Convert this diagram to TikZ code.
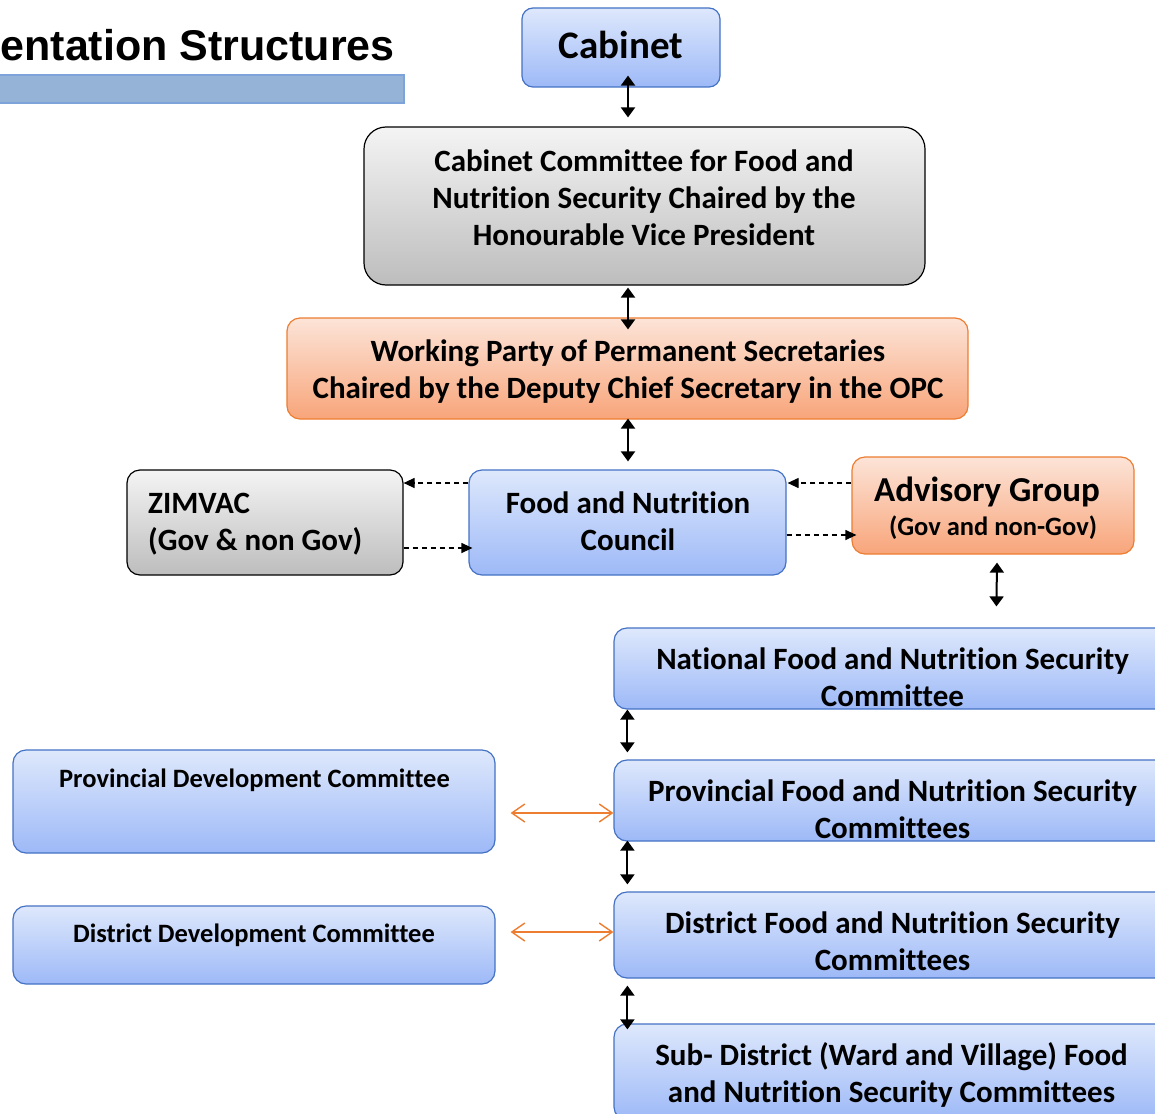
\documentclass[tikz,border=0pt]{standalone}
\usepackage{fontspec}
\setmainfont{Carlito}[Ligatures={NoCommon}]
\newfontfamily\titlefont{Liberation Sans}
\usetikzlibrary{arrows.meta,calc}
\definecolor{bluebd}{HTML}{4472C4}
\definecolor{bluetop}{HTML}{DEE8FC}
\definecolor{bluebot}{HTML}{9DB9F7}
\definecolor{greytop}{HTML}{F4F4F4}
\definecolor{greybot}{HTML}{BDBDBD}
\definecolor{orbd}{HTML}{ED7D31}
\definecolor{ortop}{HTML}{FCE4D8}
\definecolor{orbot}{HTML}{F8A57A}
\definecolor{barfill}{HTML}{95B3D7}
\definecolor{barbd}{HTML}{7EA2DA}
\tikzset{
  box/.style={rounded corners=13pt, line width=1.2pt, inner sep=0pt},
  bluebox/.style={box, draw=bluebd, top color=bluetop, bottom color=bluebot},
  greybox/.style={box, draw=black, top color=greytop, bottom color=greybot},
  orbox/.style={box, draw=orbd, top color=ortop, bottom color=orbot},
  txt/.style={inner sep=0pt, align=center, font=\bfseries\fontsize{31}{37}\selectfont},
  smalltxt/.style={inner sep=0pt, font=\bfseries\fontsize{26.5}{30}\selectfont},
  dbl/.style={line width=2pt, {Triangle[length=10pt,width=14pt]}-{Triangle[length=10pt,width=14pt]}},
  dasharrow/.style={line width=1.2pt, dash pattern=on 5pt off 4pt, -{Triangle[length=11pt,width=10pt]}},
  orarrow/.style={line width=1.4pt, draw=orbd, {Straight Barb[length=13pt,width=18pt]}-{Straight Barb[length=13pt,width=18pt]}}
}
\begin{document}
\begin{tikzpicture}[x=1pt,y=-1pt]
\useasboundingbox (0,0) rectangle (1155,1113);
\clip (0,0) rectangle (1155,1113);
% title
\node[anchor=east, inner sep=0pt, font=\titlefont\bfseries\fontsize{43}{48}\selectfont] (title) at (395,45) {entation Structures};
\node[draw=barbd, line width=1.2pt, fill=barfill, minimum width=420pt, minimum height=28pt, inner sep=0pt] (bar) at (194,89) {};
% boxes
\node[bluebox, minimum width=198pt, minimum height=79pt, rounded corners=11pt] (cab) at (621,47.5) {};
\node[txt, font=\bfseries\fontsize{39}{45}\selectfont] (cabt) at (621,44.5) {Cabinet};
\node[greybox, minimum width=561pt, minimum height=158pt, rounded corners=22pt] (com) at (644.5,206) {};
\node[txt] (comt) at (644,198) {Cabinet Committee for Food and\\Nutrition Security Chaired by the\\Honourable Vice President};
\node[orbox, minimum width=681pt, minimum height=101pt] (wp) at (627.5,368.5) {};
\node[txt] (wpt) at (628,371.5) {Working Party of Permanent Secretaries\\Chaired by the Deputy Chief Secretary in the OPC};
\node[bluebox, minimum width=317pt, minimum height=105pt] (fnc) at (627.5,522.5) {};
\node[txt] (fnct) at (628,521) {Food and Nutrition\\Council};
\node[greybox, minimum width=276pt, minimum height=105pt] (zim) at (265,522.5) {};
\node[txt, align=left, anchor=west] (zimt) at (148,524) {ZIMVAC\\(Gov \& non Gov)};
\node[orbox, minimum width=282pt, minimum height=97pt] (adv) at (993,505.5) {};
\node[txt, font=\bfseries\fontsize{35}{40}\selectfont] (advt) at (987,491.5) {Advisory Group};
\node[txt, font=\bfseries\fontsize{26.5}{30}\selectfont] (advs) at (993,527.5) {(Gov and non-Gov)};
\node[bluebox, minimum width=556pt, minimum height=81pt] (nat) at (892,668.5) {};
\node[txt] (natt) at (892.5,677.5) {National Food and Nutrition Security\\Committee};
\node[bluebox, minimum width=556pt, minimum height=81pt] (pfn) at (892,800.5) {};
\node[txt] (pfnt) at (892.5,809.5) {Provincial Food and Nutrition Security\\Committees};
\node[bluebox, minimum width=556pt, minimum height=86pt] (dfn) at (892,935) {};
\node[txt] (dfnt) at (892.5,941.5) {District Food and Nutrition Security\\Committees};
\node[bluebox, minimum width=556pt, minimum height=96pt] (sub) at (892,1072) {};
\node[txt] (subt) at (891.5,1074.5) {Sub- District (Ward and Village) Food\\and Nutrition Security Committees};
\node[bluebox, minimum width=482pt, minimum height=103pt] (pdc) at (254,801.5) {};
\node[smalltxt] (pdct) at (254.5,780) {Provincial Development Committee};
\node[bluebox, minimum width=482pt, minimum height=78pt] (ddc) at (254,945) {};
\node[smalltxt] (ddct) at (254,935) {District Development Committee};
% vertical arrows
\draw[dbl] ($(cab.south)+(7,-12)$) -- ($(com.north)+(-16.5,-9)$);
\draw[dbl] ($(com.south)+(-16.5,2)$) -- ($(wp.north)+(0.5,12)$);
\draw[dbl] ($(wp.south)+(0.5,-1)$) -- ($(fnc.north)+(0.5,-8)$);
\draw[dbl] ($(adv.south)+(4,8)$) -- ($(nat.north west)+(383,-21)$);
\draw[dbl] ($(nat.south west)+(14,0)$) -- ($(pfn.north west)+(14,-7)$);
\draw[dbl] ($(pfn.south west)+(14,-1)$) -- ($(dfn.north west)+(14,-7)$);
\draw[dbl] ($(dfn.south west)+(14,7)$) -- ($(sub.north west)+(14,6)$);
% dashed arrows
\draw[dasharrow] ($(fnc.west)+(0,-39.5)$) -- ($(zim.east)+(0,-39.5)$);
\draw[dasharrow] ($(zim.east)+(0,25.5)$) -- ($(fnc.west)+(4,25.5)$);
\draw[dasharrow] ($(adv.west)+(0,-22.5)$) -- ($(fnc.east)+(1,-39.5)$);
\draw[dasharrow] ($(fnc.east)+(0,12.5)$) -- ($(adv.west)+(5,29.5)$);
% orange arrows
\draw[orarrow] ($(pdc.east)+(15,11.5)$) -- ($(pfn.west)+(0,12.5)$);
\draw[orarrow] ($(ddc.east)+(15,-13)$) -- ($(dfn.west)+(0,-3)$);
\end{tikzpicture}
\end{document}
